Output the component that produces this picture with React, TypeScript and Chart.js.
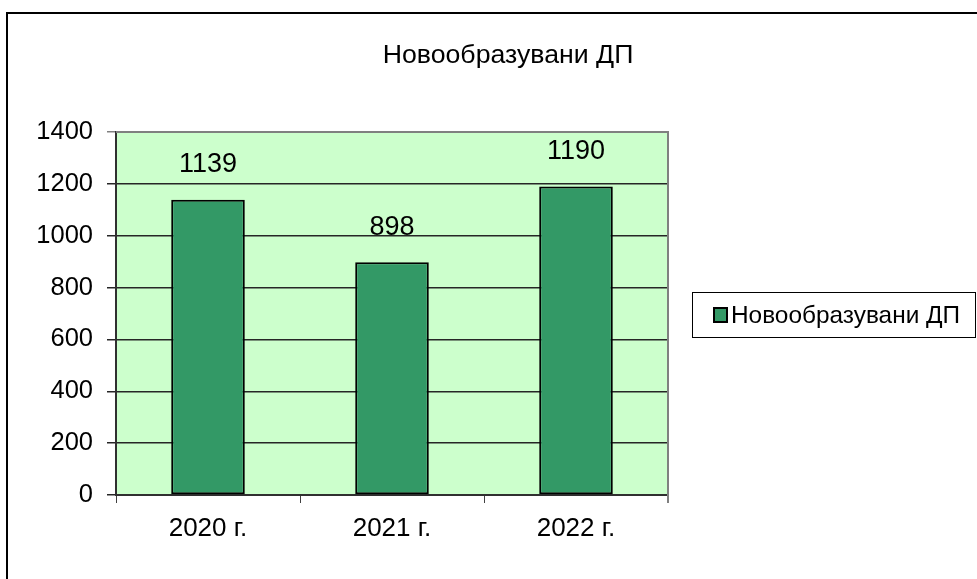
import React, { useEffect, useRef } from "react";
import { Chart, registerables } from "chart.js";

Chart.register(...registerables);

const TITLE = "Новообразувани ДП";
const SERIES_NAME = "Новообразувани ДП";
const categories = ["2020 г.", "2021 г.", "2022 г."];
const values = [1139, 898, 1190];
const yMax = 1400;
const yStep = 200;

const FONT = "'Liberation Sans', Arial, sans-serif";
const BAR_FILL = "#339966";
const PLOT_BG = "#CCFFCC";

export default function App() {
  const ref = useRef<HTMLCanvasElement | null>(null);

  useEffect(() => {
    if (!ref.current) return;

    const decor = {
      id: "decor",
      beforeDraw(chart: any) {
        const { ctx, chartArea: a } = chart;
        ctx.save();
        // outer frame
        ctx.strokeStyle = "#000";
        ctx.lineWidth = 2;
        ctx.beginPath();
        ctx.moveTo(7, 600);
        ctx.lineTo(7, 13);
        ctx.lineTo(1000, 13);
        ctx.stroke();
        // plot background
        ctx.fillStyle = PLOT_BG;
        ctx.fillRect(a.left, a.top, a.right - a.left, a.bottom - a.top);
        ctx.restore();
      },
      afterDraw(chart: any) {
        const { ctx, chartArea: a } = chart;
        ctx.save();
        // top & right border of the plot area
        ctx.strokeStyle = "#808080";
        ctx.lineWidth = 2;
        ctx.beginPath();
        ctx.moveTo(a.left, a.top);
        ctx.lineTo(a.right, a.top);
        ctx.lineTo(a.right, a.bottom + 8);
        ctx.stroke();
        // title
        ctx.fillStyle = "#000";
        ctx.font = `26.7px ${FONT}`;
        ctx.textAlign = "center";
        ctx.textBaseline = "middle";
        ctx.fillText(TITLE, 508, 56);
        // legend
        ctx.lineWidth = 1;
        ctx.strokeStyle = "#000";
        ctx.strokeRect(692.5, 292.5, 283, 45);
        ctx.fillStyle = BAR_FILL;
        ctx.fillRect(714, 308, 13, 14);
        ctx.lineWidth = 2;
        ctx.strokeRect(714, 308, 13, 14);
        ctx.fillStyle = "#000";
        ctx.font = `24.4px ${FONT}`;
        ctx.textAlign = "left";
        ctx.fillText(SERIES_NAME, 731, 316);
        ctx.restore();
      },
      afterDatasetsDraw(chart: any) {
        const { ctx } = chart;
        const meta = chart.getDatasetMeta(0);
        ctx.save();
        ctx.fillStyle = "#000";
        ctx.font = `27px ${FONT}`;
        ctx.textAlign = "center";
        ctx.textBaseline = "middle";
        meta.data.forEach((bar: any, i: number) => {
          ctx.fillText(String(values[i]), bar.x, bar.y - 35);
        });
        ctx.restore();
      },
    };

    const chart = new Chart(ref.current, {
      type: "bar",
      data: {
        labels: categories,
        datasets: [
          {
            label: SERIES_NAME,
            data: values,
            backgroundColor: BAR_FILL,
            borderColor: "#000",
            borderWidth: 2,
            borderSkipped: false,
            barPercentage: 0.4,
            categoryPercentage: 1,
          },
        ],
      },
      options: {
        responsive: false,
        animation: false,
        devicePixelRatio: 1,
        layout: { padding: { left: 0, top: 132, right: 309, bottom: 0 } },
        plugins: {
          legend: { display: false },
          title: { display: false },
          tooltip: { enabled: false },
        },
        scales: {
          x: {
            afterFit: (s: any) => {
              s.height = 84;
            },
            grid: {
              offset: true,
              drawOnChartArea: false,
              drawTicks: true,
              tickLength: 8,
              color: "#404040",
            },
            border: { color: "#303030", width: 2 },
            ticks: {
              color: "#000",
              font: { family: FONT, size: 26 },
              padding: 10,
            },
          },
          y: {
            min: 0,
            max: yMax,
            afterFit: (s: any) => {
              s.width = 116;
            },
            grid: {
              color: (c: any) => (c.tick && c.tick.value === yMax ? "#808080" : "#262626"),
              lineWidth: 1.5,
              drawTicks: true,
              tickLength: 9,
            },
            border: { color: "#303030", width: 2 },
            ticks: {
              stepSize: yStep,
              color: "#000",
              font: { family: FONT, size: 25.5 },
              padding: 14,
              callback: (v: any) => String(v),
            },
          },
        },
      },
      plugins: [decor],
    });

    return () => chart.destroy();
  }, []);

  return (
    <canvas
      ref={ref}
      width={977}
      height={579}
      style={{ position: "absolute", left: 0, top: 0, background: "#fff" }}
    />
  );
}
